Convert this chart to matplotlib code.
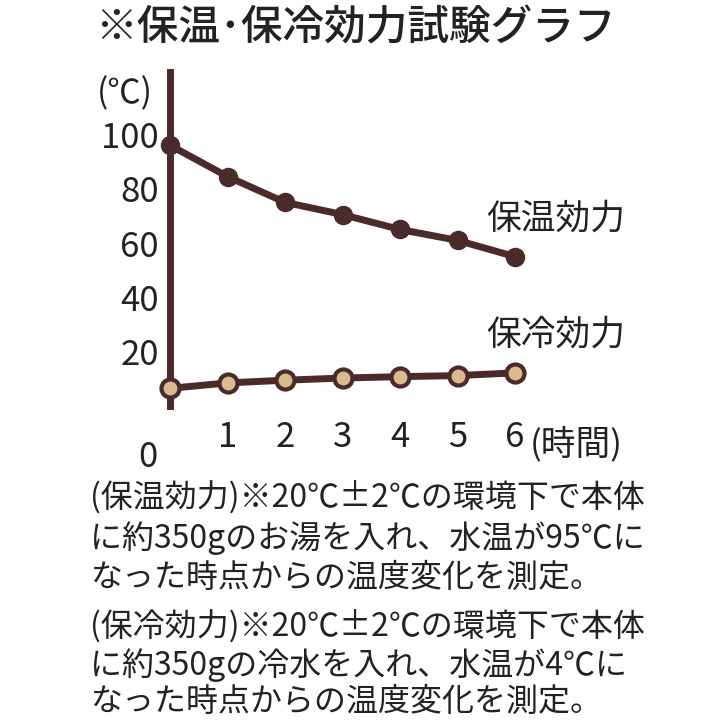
import matplotlib
matplotlib.use("Agg")
import matplotlib.pyplot as plt

plt.rcParams['font.family'] = ['Noto Sans CJK JP', 'DejaVu Sans']
hours = [0, 1, 2, 3, 4, 5, 6]
hot = [96, 84.5, 75, 70.5, 65, 61, 55]
cold = [6.5, 8.5, 9.5, 10.3, 10.8, 11.2, 12.2]
yticks = [20, 40, 60, 80, 100]
brown = '#4a2a2a'
tan = '#d9bc8e'

fig = plt.figure(figsize=(7.2, 7.2), dpi=100)
ax = fig.add_axes([170/720, 1-406/720, 345/720, 334/720])
ax.plot(hours, hot, color=brown, lw=5, marker='o', ms=13, mfc=brown, mec=brown, clip_on=False, zorder=3)
ax.plot(hours, cold, color=brown, lw=5, marker='o', ms=13, mfc=tan, mec=brown, mew=3, clip_on=False, zorder=3)
ax.set_xlim(0, 6)
ax.set_ylim(0, 123)
for s in ['top', 'right', 'bottom']:
    ax.spines[s].set_visible(False)
ax.spines['left'].set_color(brown)
ax.spines['left'].set_linewidth(5)
ax.set_yticks(yticks)
ax.set_xticks(hours)
ax.tick_params(length=0, labelsize=25, pad=8)
ax.tick_params(axis='x', pad=10)
labels = ax.set_xticklabels([str(h) for h in hours])
for t in ax.get_xticklabels() + ax.get_yticklabels():
    t.set_color('#222')
ax.text(-0.4, -15.5, '', fontsize=1)
labels[0].set_visible(False)
ax.text(-0.38, -12.5, '0', fontsize=25, color='#222', ha='center', va='top')
ax.text(-0.78, 115, '(℃)', fontsize=24, color='#222', ha='center', va='center')
ax.text(6.25, -14, '(時間)', fontsize=25, color='#222', ha='left', va='center', clip_on=False)
ax.text(5.5, 69, '保温効力', fontsize=25, color='#222', ha='left', va='center', clip_on=False)
ax.text(5.5, 26, '保冷効力', fontsize=25, color='#222', ha='left', va='center', clip_on=False)

fig.text(95/720, 1-28/720, '※保温･保冷効力試験グラフ', fontsize=30, color='#222', va='center', ha='left', weight='medium')
lines = ['(保温効力)※20℃±2℃の環境下で本体',
         'に約350gのお湯を入れ、水温が95℃に',
         'なった時点からの温度変化を測定。',
         '(保冷効力)※20℃±2℃の環境下で本体',
         'に約350gの冷水を入れ、水温が4℃に',
         'なった時点からの温度変化を測定。']
ys = [497, 538, 578, 626, 665, 702]
for l, y in zip(lines, ys):
    fig.text(90/720, 1-y/720, l, fontsize=23, color='#222', va='center', ha='left')
fig.savefig('out.png', dpi=100)
